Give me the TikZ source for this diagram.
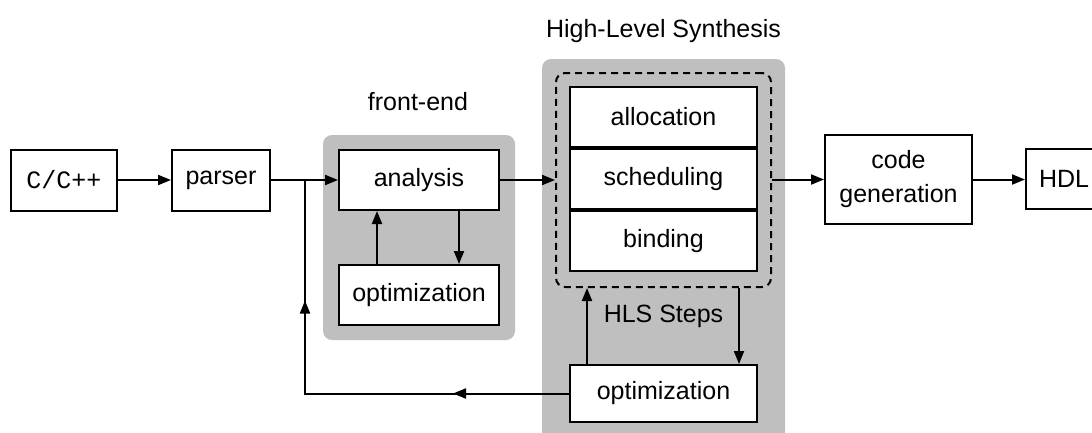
\documentclass[tikz,border=0pt]{standalone}
\usepackage{fontspec}
\setmainfont{Liberation Sans}
\setmonofont{Liberation Mono}
\usetikzlibrary{arrows.meta,decorations.markings}
\definecolor{hlsgray}{RGB}{191,191,191}
\tikzset{
  box/.style={draw=black,line width=2pt,fill=white,inner sep=0pt,align=center},
  tip/.tip={Triangle[length=13pt,width=10pt]},
  conn/.style={line width=2pt,-tip},
  plain/.style={line width=2pt},
  grp/.style={fill=hlsgray,rounded corners=9pt},
  lbl/.style={inner sep=0pt},
}
\begin{document}
\begin{tikzpicture}[x=1pt,y=-1pt,font=\fontsize{25}{28}\selectfont]
\clip (0,0) rectangle (1092,432);
\fill[white] (0,0) rectangle (1092,432);
% groups
\path[grp] (323,135) rectangle (515,340);
\path[grp] (542,59) rectangle (785,460);
\node[lbl] (lfe) at (418,102) {front-end};
\node[lbl] (lhls) at (663.5,31) {High-Level Synthesis};
\node[lbl] (lsteps) at (663.5,316) {HLS Steps};
% nodes
\node[box,minimum width=106pt,minimum height=61pt] (cc) at (64,180) {\ttfamily C/C++};
\node[box,minimum width=98pt,minimum height=61pt] (parser) at (221,180) {parser};
\node[box,minimum width=160pt,minimum height=60pt] (analysis) at (419,180) {analysis};
\node[box,minimum width=160pt,minimum height=60pt] (opt1) at (419,295) {optimization};
\node[draw=black,line width=2pt,dash pattern=on 7pt off 5pt,rounded corners=9pt,
      minimum width=215pt,minimum height=214pt,inner sep=0pt] (steps) at (663.5,180) {};
\node[box,minimum width=187pt,minimum height=60pt] (alloc) at (663.5,117) {allocation};
\node[box,minimum width=187pt,minimum height=60pt] (sched) at (663.5,179) {scheduling};
\node[box,minimum width=187pt,minimum height=60pt] (bind) at (663.5,241) {binding};
\node[box,minimum width=187pt,minimum height=57pt] (opt2) at (663.5,393.5) {optimization};
\node[box,minimum width=147pt,minimum height=89pt] (codegen) at (898.5,179.5) {code\\[6pt]generation};
\node[box,minimum width=76pt,minimum height=60pt] (hdl) at (1064,179) {HDL};
% connectors
\coordinate (j) at (305,180);
\draw[conn] (cc) -- (parser);
\draw[plain] (parser.east) -- (j);
\draw[conn] (j) -- (analysis.west);
\draw[conn] ([xshift=-42pt]opt1.north) -- ([xshift=-42pt]analysis.south);
\draw[conn] ([xshift=40pt]analysis.south) -- ([xshift=40pt]opt1.north);
\draw[conn] (analysis.east) -- (steps.west |- analysis.east);
\draw[conn] (steps.east |- codegen.west) -- (codegen.west);
\draw[conn] (codegen.east) -- (hdl.west |- codegen.east);
\draw[conn] ([xshift=-76.5pt]opt2.north) -- ([xshift=-76.5pt]steps.south);
\draw[conn] ([xshift=75.5pt]steps.south) -- ([xshift=75.5pt]opt2.north);
\draw[plain,postaction={decorate},decoration={markings,
   mark=at position 116pt with {\arrow{tip}},
   mark=at position 357pt with {\arrow{tip}}}]
  (opt2.west) -- (j |- opt2.west) -- (j);
\end{tikzpicture}
\end{document}
